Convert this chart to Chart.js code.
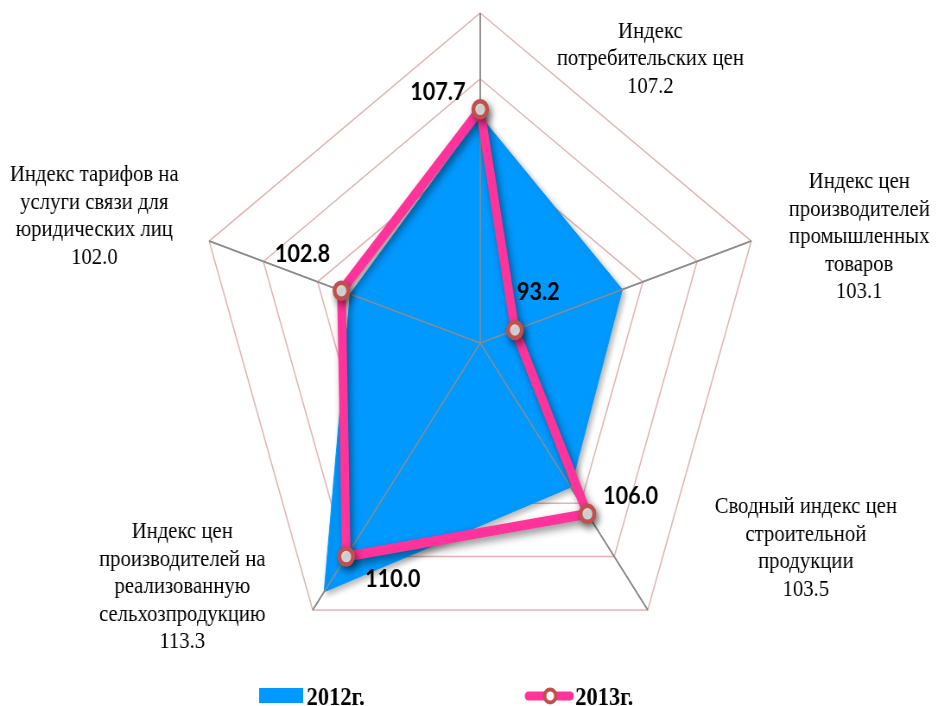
<!DOCTYPE html>
<html>
<head>
<meta charset="utf-8">
<script src="https://cdn.jsdelivr.net/npm/chart.js@4.4.1/dist/chart.umd.min.js"></script>
<style>
    html, body { margin: 0; padding: 0; background: #fff; overflow: hidden; }
    /* the original picture is squeezed horizontally, so the whole chart is too */
    #contenedor { width: 1086px; height: 706px; position: relative; transform: scaleX(0.8637); transform-origin: 0 0; }
</style>
</head>
<body>
<div id="contenedor"><canvas id="graficoIndices"></canvas></div>
<script>
var categorias = [
    ['Индекс', 'потребительских цен'],
    ['Индекс цен', 'производителей', 'промышленных', 'товаров'],
    ['Сводный индекс цен', 'строительной', 'продукции'],
    ['Индекс цен', 'производителей на', 'реализованную', 'сельхозпродукцию'],
    ['Индекс тарифов на', 'услуги связи для', 'юридических лиц']
];
var valores2012 = [107.2, 103.1, 103.5, 113.3, 102.0];
var valores2013 = [107.7, 93.2, 106.0, 110.0, 102.8];
var series = ['2012г.', '2013г.'];
var escalaMin = 90;
var escalaMax = 115;
var escalaPaso = 5;

graficoIndices();

function graficoIndices() {

    // where the texts sit around the pentagon (offsets from the point / vertex)
    var despEtiquetas = [[197, 46], [125, -4], [183, -62], [-151, -23], [-133, -25]];
    var despValores = [[-49, -17], [27, -38], [50, -18], [54, 22], [-45, -37]];

    var textos = {
        id: 'textos',
        beforeDatasetsDraw: function (chart) {
            var ctx = chart.ctx;
            ctx.save();
            ctx.shadowColor = 'rgba(0,0,0,0.30)';
            ctx.shadowBlur = 6;
            ctx.shadowOffsetX = 3;
            ctx.shadowOffsetY = 3;
        },
        afterDatasetDraw: function (chart, args) {
            if (args.index !== 0) return;
            var ctx = chart.ctx;
            var r = chart.scales.r;
            ctx.restore();
            // spokes go over the blue area
            ctx.save();
            ctx.strokeStyle = '#8c8c8c';
            ctx.lineWidth = 1.5;
            for (var i = 0; i < categorias.length; i++) {
                var p = r.getPointPosition(i, r.drawingArea);
                ctx.beginPath();
                ctx.moveTo(r.xCenter, r.yCenter);
                ctx.lineTo(p.x, p.y);
                ctx.stroke();
            }
            ctx.restore();
            ctx.save();
            ctx.shadowColor = 'rgba(0,0,0,0.45)';
            ctx.shadowBlur = 8;
            ctx.shadowOffsetX = 3;
            ctx.shadowOffsetY = 4;
        },
        afterDatasetsDraw: function (chart) {
            chart.ctx.restore();
        },
        afterDraw: function (chart) {
            var ctx = chart.ctx;
            var r = chart.scales.r;
            ctx.save();
            ctx.fillStyle = '#000';
            ctx.textAlign = 'center';
            ctx.textBaseline = 'middle';

            // category names + 2012 value
            ctx.font = '24px "Liberation Serif"';
            for (var i = 0; i < categorias.length; i++) {
                var v = r.getPointPosition(i, r.drawingArea);
                var lineas = categorias[i].concat([valores2012[i].toFixed(1)]);
                var y0 = v.y + despEtiquetas[i][1] - (lineas.length - 1) * 27.5 / 2;
                for (var j = 0; j < lineas.length; j++) {
                    ctx.fillText(lineas[j], v.x + despEtiquetas[i][0], y0 + j * 27.5);
                }
            }

            // 2013 values
            ctx.font = 'bold 25px Lato';
            var puntos = chart.getDatasetMeta(1).data;
            for (var k = 0; k < puntos.length; k++) {
                ctx.fillText(valores2013[k].toFixed(1), puntos[k].x + despValores[k][0], puntos[k].y + despValores[k][1]);
            }

            // legend
            var ds = chart.data.datasets;
            ctx.textAlign = 'left';
            ctx.textBaseline = 'alphabetic';
            ctx.font = 'bold 26px "Liberation Serif"';
            ctx.fillStyle = ds[0].backgroundColor;
            ctx.fillRect(300, 688, 51, 15);
            ctx.fillStyle = '#000';
            ctx.fillText(ds[0].label, 355, 705);

            ctx.strokeStyle = ds[1].borderColor;
            ctx.lineWidth = 9;
            ctx.lineCap = 'round';
            ctx.beginPath();
            ctx.moveTo(612, 696);
            ctx.lineTo(660, 696);
            ctx.stroke();
            ctx.beginPath();
            ctx.arc(637, 696, 6.5, 0, Math.PI * 2);
            ctx.fillStyle = ds[1].pointBackgroundColor;
            ctx.fill();
            ctx.lineWidth = 4;
            ctx.strokeStyle = ds[1].pointBorderColor;
            ctx.stroke();
            ctx.fillStyle = '#000';
            ctx.fillText(ds[1].label, 666, 705);
            ctx.restore();
        }
    };

    var ctx = document.getElementById('graficoIndices').getContext('2d');
    var chart = new Chart(ctx, {
        // The type of chart we want to create
        type: 'radar',

        // The data for our dataset
        data: {
            labels: categorias,
            datasets: [{
                label: series[0],
                data: valores2012,
                backgroundColor: '#0099FF',
                borderColor: '#0099FF',
                borderWidth: 1,
                fill: true,
                pointRadius: 0,
                order: 2
            }, {
                label: series[1],
                data: valores2013,
                borderColor: '#FF3399',
                borderWidth: 10,
                borderJoinStyle: 'round',
                fill: false,
                pointRadius: 8,
                pointBorderWidth: 4.5,
                pointBorderColor: '#C0504D',
                pointBackgroundColor: '#FFFFFF',
                order: 1
            }]
        },

        // Configuration options go here
        options: {
            responsive: true,
            maintainAspectRatio: false,
            animation: false,
            layout: { padding: { top: 13, bottom: 33, left: 27, right: 0 } },
            plugins: {
                legend: { display: false },
                tooltip: { enabled: false }
            },
            scales: {
                r: {
                    min: escalaMin,
                    max: escalaMax,
                    ticks: { stepSize: escalaPaso, display: false },
                    grid: { color: '#E2B3B1', lineWidth: 1.5 },
                    angleLines: { color: '#8c8c8c', lineWidth: 1.5 },
                    pointLabels: { display: false }
                }
            }
        },
        plugins: [textos]
    });
}
</script>
</body>
</html>
